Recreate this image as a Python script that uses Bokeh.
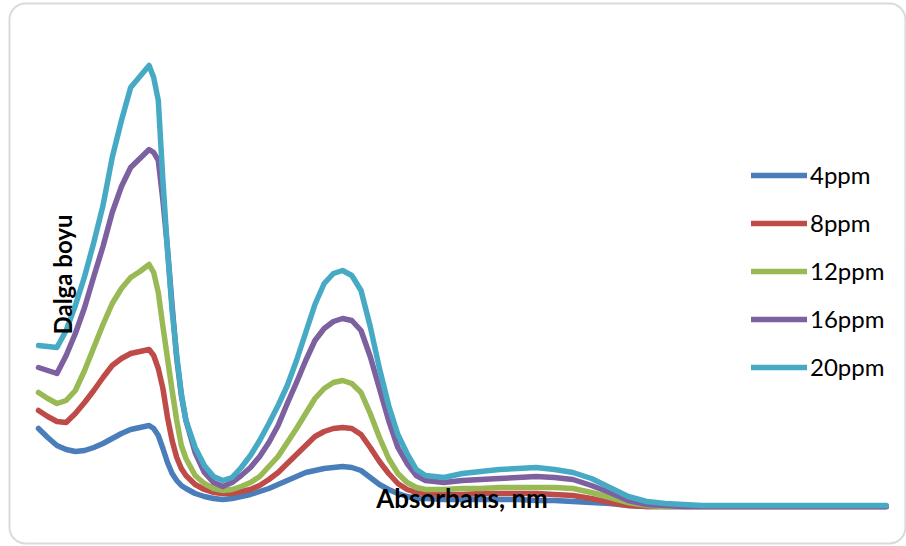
from bokeh.plotting import figure
from bokeh.models import Range1d, ColumnDataSource, Legend, LegendItem, Label, BoxAnnotation
from bokeh.embed import file_html
from bokeh.resources import INLINE
import math

# sample positions along the (unlabelled) category axis
position = [0, 0.5, 1, 1.5, 2, 2.5, 3, 3.5, 4, 4.5, 5, 5.5, 6,
            6.25, 6.5, 6.75, 7, 7.25, 7.5, 7.75, 8,
            8.5, 9, 9.5, 10, 10.5, 11, 11.5, 12, 12.5, 13, 13.5, 14, 14.5, 15, 15.5,
            16, 16.5, 17, 17.5, 18, 18.5, 19, 19.5, 20, 20.5, 21,
            22, 23, 24, 25, 26, 27, 28, 29, 30, 31, 32, 33, 34, 35, 36,
            38, 40, 42, 44, 46]

series_names = ["4ppm", "8ppm", "12ppm", "16ppm", "20ppm"]
series_colors = ["#4A7EBB", "#BE4B48", "#98B954", "#7D60A0", "#46AAC5"]

ppm4 = [0.390, 0.345, 0.305, 0.285, 0.275, 0.280, 0.295, 0.315, 0.340, 0.365, 0.385, 0.395, 0.405,
        0.390, 0.355, 0.290, 0.220, 0.165, 0.130, 0.105, 0.090,
        0.065, 0.050, 0.040, 0.035, 0.040, 0.050, 0.060, 0.075, 0.090, 0.110, 0.130, 0.150, 0.170, 0.180, 0.190,
        0.195, 0.200, 0.195, 0.180, 0.145, 0.110, 0.085, 0.065, 0.050, 0.040, 0.040,
        0.035, 0.035, 0.035, 0.035, 0.035, 0.030, 0.030, 0.025, 0.020, 0.015, 0.005, 0, 0, 0, 0,
        0, 0, 0, 0, 0]

ppm8 = [0.480, 0.450, 0.425, 0.420, 0.465, 0.520, 0.580, 0.645, 0.705, 0.740, 0.765, 0.775, 0.785,
        0.755, 0.690, 0.590, 0.445, 0.330, 0.245, 0.190, 0.155,
        0.110, 0.085, 0.070, 0.065, 0.065, 0.075, 0.085, 0.105, 0.135, 0.170, 0.215, 0.260, 0.305, 0.350, 0.375,
        0.390, 0.395, 0.390, 0.360, 0.295, 0.225, 0.165, 0.115, 0.085, 0.070, 0.065,
        0.060, 0.060, 0.065, 0.065, 0.065, 0.065, 0.060, 0.055, 0.040, 0.020, 0.005, 0, 0, 0, 0,
        0, 0, 0, 0, 0]

ppm12 = [0.570, 0.540, 0.515, 0.530, 0.580, 0.680, 0.795, 0.910, 1.015, 1.090, 1.145, 1.175, 1.210,
         1.170, 1.070, 0.900, 0.740, 0.580, 0.430, 0.305, 0.240,
         0.155, 0.115, 0.090, 0.080, 0.085, 0.100, 0.120, 0.150, 0.200, 0.250, 0.320, 0.390, 0.465, 0.540, 0.590,
         0.620, 0.630, 0.615, 0.570, 0.465, 0.345, 0.240, 0.165, 0.120, 0.095, 0.085,
         0.085, 0.090, 0.090, 0.095, 0.095, 0.095, 0.095, 0.090, 0.070, 0.045, 0.020, 0.005, 0, 0, 0,
         0, 0, 0, 0, 0]

ppm16 = [0.695, 0.680, 0.665, 0.755, 0.865, 0.995, 1.150, 1.300, 1.470, 1.600, 1.695, 1.740, 1.785,
         1.770, 1.730, 1.530, 1.290, 1.005, 0.740, 0.555, 0.430,
         0.270, 0.170, 0.120, 0.100, 0.120, 0.155, 0.195, 0.250, 0.320, 0.405, 0.515, 0.620, 0.730, 0.830, 0.890,
         0.925, 0.940, 0.930, 0.880, 0.750, 0.590, 0.430, 0.295, 0.215, 0.155, 0.130,
         0.120, 0.130, 0.135, 0.140, 0.145, 0.150, 0.145, 0.135, 0.105, 0.070, 0.030, 0.010, 0.005, 0, 0,
         0, 0, 0, 0, 0]

ppm20 = [0.805, 0.800, 0.795, 0.880, 1.005, 1.150, 1.320, 1.505, 1.745, 1.930, 2.095, 2.150, 2.205,
         2.145, 2.030, 1.630, 1.280, 0.980, 0.755, 0.565, 0.430,
         0.295, 0.205, 0.150, 0.130, 0.145, 0.195, 0.255, 0.330, 0.415, 0.505, 0.605, 0.730, 0.870, 1.010, 1.115,
         1.165, 1.180, 1.155, 1.080, 0.900, 0.690, 0.505, 0.360, 0.265, 0.185, 0.155,
         0.145, 0.165, 0.175, 0.185, 0.190, 0.195, 0.185, 0.170, 0.140, 0.095, 0.050, 0.025, 0.015, 0.010, 0.005,
         0.005, 0.005, 0.005, 0.005, 0.005]

y_title = "Dalga boyu"
x_title = "Absorbans, nm"

source = ColumnDataSource(dict(x=position, s4=ppm4, s8=ppm8, s12=ppm12, s16=ppm16, s20=ppm20))
cols = ["s4", "s8", "s12", "s16", "s20"]

p = figure(width=906, height=546,
           x_range=Range1d(-2.062, 47.098), y_range=Range1d(-0.2, 2.53),
           x_axis_type=None, y_axis_type=None,
           toolbar_location=None, output_backend="svg",
           min_border=0, outline_line_color=None,
           background_fill_color="white", border_fill_color="white")

# chart area border with rounded corners
p.add_layout(BoxAnnotation(left=-1.574, right=47.04, top=2.515, bottom=-0.185,
                           fill_alpha=0, line_color="#858585", line_width=2,
                           border_radius=16, level="underlay"))

items = []
for col, name, color in zip(cols, series_names, series_colors):
    r = p.line("x", col, source=source, line_color=color, line_width=5.5,
               line_join="round", line_cap="round")
    items.append(LegendItem(label=name, renderers=[r]))

legend = Legend(items=items, location=(751, 165),
                glyph_width=56, glyph_height=28, label_height=28, spacing=19,
                label_standoff=3, padding=0, margin=0,
                border_line_color=None, background_fill_alpha=0,
                label_text_font="Lato", label_text_font_size="24px",
                label_text_color="black")
p.add_layout(legend)

p.add_layout(Label(x=1.302, y=1.16, text=y_title, angle=math.pi / 2,
                   text_align="center", text_baseline="middle",
                   text_font="Lato", text_font_style="bold", text_font_size="24px",
                   text_color="black"))
p.add_layout(Label(x=22.98, y=0.045, text=x_title,
                   text_align="center", text_baseline="middle",
                   text_font="Lato", text_font_style="bold", text_font_size="26px",
                   text_color="black"))

open("out.html", "w").write(file_html(p, INLINE))
